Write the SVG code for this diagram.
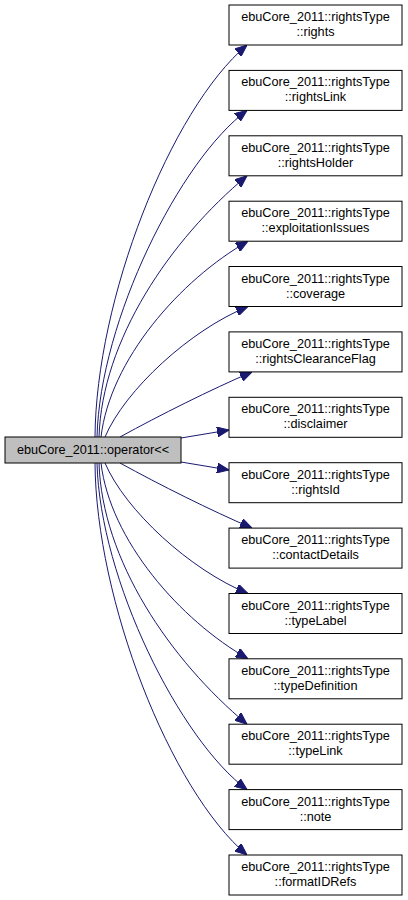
<svg xmlns="http://www.w3.org/2000/svg" width="408" height="900" viewBox="0 0 408 900">
<style>
.n rect{fill:#ffffff;stroke:#000000;stroke-width:1}
.n text,.m text{font-family:"Liberation Sans",Arial,sans-serif;font-size:12.7px;fill:#000000;text-anchor:middle}
.m rect{fill:#bfbfbf;stroke:#000000;stroke-width:1}
.e path{fill:none;stroke:#191970;stroke-width:1;marker-end:url(#ah)}
</style>
<defs>
<marker id="ah" markerWidth="12" markerHeight="10" refX="12" refY="5" orient="auto" markerUnits="userSpaceOnUse">
<path d="M0,0 L12,5 L0,10 z" fill="#191970" stroke="#191970" stroke-width="1"/>
</marker>
</defs>
<rect width="408" height="900" fill="#ffffff"/>
<g id="edges" class="e">
<path d="M95,437 C96,300 170,110 247,45"/>
<path d="M97,437 C100,320 180,160 247,110.4"/>
<path d="M99,437 C102,340 170,240 247,175.8"/>
<path d="M101,437 C110,360 180,280 248,241.2"/>
<path d="M105,437 C125,390 190,330 248,306.5"/>
<path d="M120,437 C160,415 210,390 252,371.9"/>
<path d="M181,438 L229,430"/>
<path d="M181,462 L229,470"/>
<path d="M120,463 C160,485 210,510 252,528.1"/>
<path d="M105,463 C125,510 190,570 248,593.5"/>
<path d="M101,463 C110,540 180,620 248,658.8"/>
<path d="M99,463 C102,560 170,660 247,724.2"/>
<path d="M97,463 C100,580 180,740 247,789.6"/>
<path d="M95,463 C96,600 170,790 247,855"/>
</g>
<g id="operator" class="m"><rect x="5" y="437" width="176" height="26"/><text x="93" y="454">ebuCore_2011::operator&lt;&lt;</text></g>
<g id="rights" class="n"><rect x="229" y="5" width="173" height="40"/><text x="315.5" y="21">ebuCore_2011::rightsType</text><text x="315.5" y="36">::rights</text></g>
<g id="rightsLink" class="n"><rect x="229" y="70.4" width="173" height="40"/><text x="315.5" y="86.4">ebuCore_2011::rightsType</text><text x="315.5" y="101.4">::rightsLink</text></g>
<g id="rightsHolder" class="n"><rect x="229" y="135.8" width="173" height="40"/><text x="315.5" y="151.8">ebuCore_2011::rightsType</text><text x="315.5" y="166.8">::rightsHolder</text></g>
<g id="exploitationIssues" class="n"><rect x="229" y="201.2" width="173" height="40"/><text x="315.5" y="217.2">ebuCore_2011::rightsType</text><text x="315.5" y="232.2">::exploitationIssues</text></g>
<g id="coverage" class="n"><rect x="229" y="266.5" width="173" height="40"/><text x="315.5" y="282.5">ebuCore_2011::rightsType</text><text x="315.5" y="297.5">::coverage</text></g>
<g id="rightsClearanceFlag" class="n"><rect x="229" y="331.9" width="173" height="40"/><text x="315.5" y="347.9">ebuCore_2011::rightsType</text><text x="315.5" y="362.9">::rightsClearanceFlag</text></g>
<g id="disclaimer" class="n"><rect x="229" y="397.3" width="173" height="40"/><text x="315.5" y="413.3">ebuCore_2011::rightsType</text><text x="315.5" y="428.3">::disclaimer</text></g>
<g id="rightsId" class="n"><rect x="229" y="462.7" width="173" height="40"/><text x="315.5" y="478.7">ebuCore_2011::rightsType</text><text x="315.5" y="493.7">::rightsId</text></g>
<g id="contactDetails" class="n"><rect x="229" y="528.1" width="173" height="40"/><text x="315.5" y="544.1">ebuCore_2011::rightsType</text><text x="315.5" y="559.1">::contactDetails</text></g>
<g id="typeLabel" class="n"><rect x="229" y="593.5" width="173" height="40"/><text x="315.5" y="609.5">ebuCore_2011::rightsType</text><text x="315.5" y="624.5">::typeLabel</text></g>
<g id="typeDefinition" class="n"><rect x="229" y="658.8" width="173" height="40"/><text x="315.5" y="674.8">ebuCore_2011::rightsType</text><text x="315.5" y="689.8">::typeDefinition</text></g>
<g id="typeLink" class="n"><rect x="229" y="724.2" width="173" height="40"/><text x="315.5" y="740.2">ebuCore_2011::rightsType</text><text x="315.5" y="755.2">::typeLink</text></g>
<g id="note" class="n"><rect x="229" y="789.6" width="173" height="40"/><text x="315.5" y="805.6">ebuCore_2011::rightsType</text><text x="315.5" y="820.6">::note</text></g>
<g id="formatIDRefs" class="n"><rect x="229" y="855" width="173" height="40"/><text x="315.5" y="871">ebuCore_2011::rightsType</text><text x="315.5" y="886">::formatIDRefs</text></g>
</svg>
